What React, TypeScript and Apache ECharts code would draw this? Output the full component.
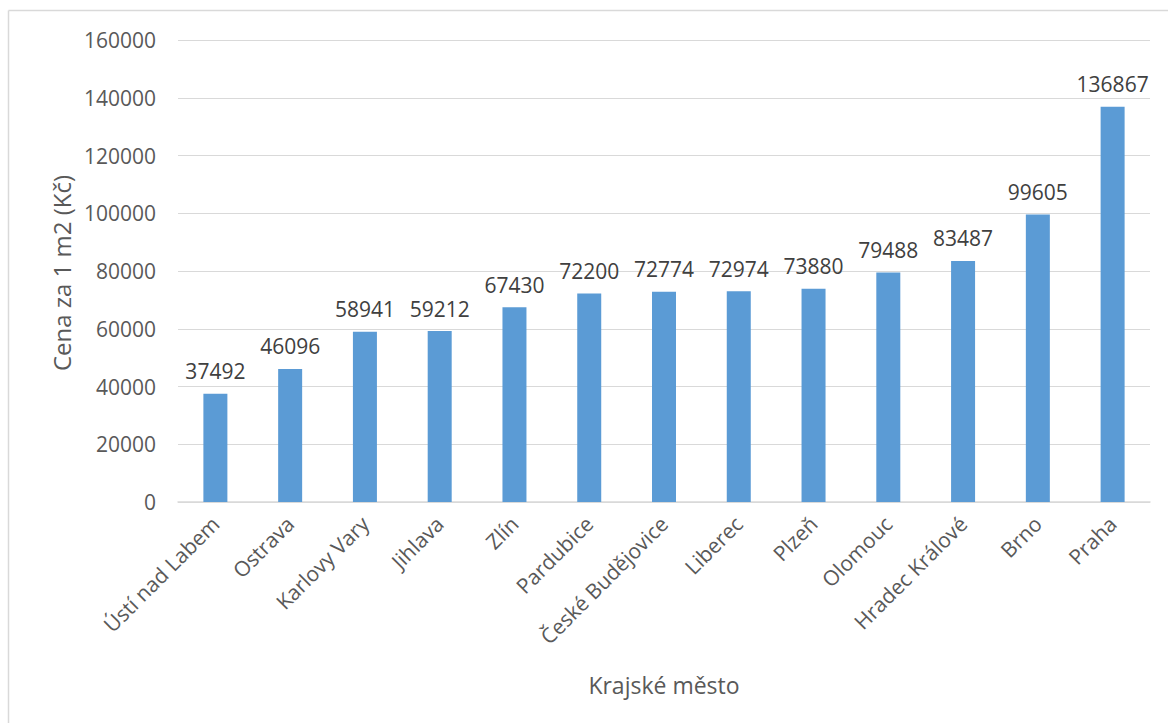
import React, { useEffect, useRef } from "react";
import * as echarts from "echarts";

const categories = [
  "Ústí nad Labem",
  "Ostrava",
  "Karlovy Vary",
  "Jihlava",
  "Zlín",
  "Pardubice",
  "České Budějovice",
  "Liberec",
  "Plzeň",
  "Olomouc",
  "Hradec Králové",
  "Brno",
  "Praha",
];
const prices = [37492, 46096, 58941, 59212, 67430, 72200, 72774, 72974, 73880, 79488, 83487, 99605, 136867];
const yAxisTitle = "Cena za 1 m2 (Kč)";
const xAxisTitle = "Krajské město";

const FONT = "'Open Sans', 'Noto Sans', sans-serif";

export default function App() {
  const ref = useRef<HTMLDivElement>(null);
  useEffect(() => {
    if (!ref.current) return;
    const chart = echarts.init(ref.current, undefined, { renderer: "svg" });
    chart.setOption({
      animation: false,
      backgroundColor: "#ffffff",
      textStyle: { fontFamily: FONT },
      grid: { left: 178, right: 18, top: 40, bottom: 221, containLabel: false },
      xAxis: {
        type: "category",
        data: categories,
        axisLine: { show: true, lineStyle: { color: "#d9d9d9", width: 1.5 } },
        axisTick: { show: false },
        axisLabel: {
          interval: 0,
          rotate: 45,
          margin: 18,
          color: "#595959",
          fontSize: 21,
          fontFamily: FONT,
        },
      },
      yAxis: {
        type: "value",
        min: 0,
        max: 160000,
        interval: 20000,
        axisLine: { show: false },
        axisTick: { show: false },
        splitLine: { lineStyle: { color: "#d9d9d9", width: 1.2 } },
        axisLabel: {
          color: "#595959",
          fontSize: 21,
          margin: 22,
          fontFamily: FONT,
          formatter: (v: number) => String(v),
        },
      },
      series: [
        {
          type: "bar",
          data: prices,
          barWidth: 24,
          itemStyle: { color: "#5b9bd5" },
          label: {
            show: true,
            position: "top",
            distance: 12,
            color: "#404040",
            fontSize: 21,
            fontFamily: FONT,
          },
        },
      ],
      graphic: [
        { type: "line", shape: { x1: 8.5, y1: 10.5, x2: 1168, y2: 10.5 }, style: { stroke: "#d9d9d9", lineWidth: 1.5 } },
        { type: "line", shape: { x1: 8.5, y1: 10.5, x2: 8.5, y2: 723 }, style: { stroke: "#d9d9d9", lineWidth: 1.5 } },
        {
          type: "text",
          x: 61,
          y: 273,
          rotation: Math.PI / 2,
          style: {
            text: yAxisTitle,
            fill: "#595959",
            fontSize: 24,
            fontFamily: FONT,
            align: "center",
            verticalAlign: "middle",
          },
        },
        {
          type: "text",
          x: 664,
          y: 685,
          style: {
            text: xAxisTitle,
            fill: "#595959",
            fontSize: 23,
            fontFamily: FONT,
            align: "center",
            verticalAlign: "middle",
          },
        },
      ],
    });
    return () => chart.dispose();
  }, []);
  return (
    <div
      ref={ref}
      style={{ position: "absolute", left: 0, top: 0, width: 1168, height: 723 }}
    />
  );
}
